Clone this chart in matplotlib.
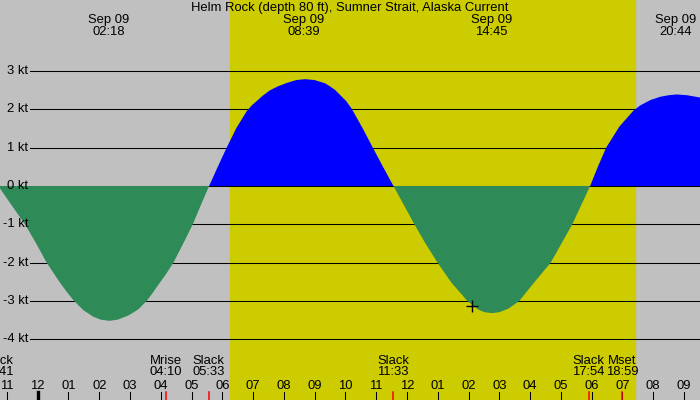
import numpy as np
import matplotlib.pyplot as plt

plt.rcParams['font.family'] = ['Liberation Sans', 'DejaVu Sans']

# current speed readings (hours after midnight Sep 09, knots)
hours = [-1.28, -0.85, -0.41, -0.05, 0.29, 0.72, 0.95, 1.18, 1.48, 1.8, 2.05, 2.33, 2.6, 2.95, 3.27, 3.54, 3.73, 3.92, 4.17, 4.41, 4.73, 5.04, 5.3,
         5.57, 5.85, 6.14, 6.46, 6.79, 6.95, 7.12, 7.3, 7.55, 7.8, 8.09, 8.4, 8.69, 9.0, 9.34, 9.5, 9.66, 10.02, 10.2, 10.55, 10.89, 11.22,
         11.56, 11.9, 12.24, 12.6, 12.99, 13.45, 13.96, 14.3, 14.5, 14.75, 15.0, 15.3, 15.65, 16.15, 16.67, 17.02, 17.37, 17.66,
         17.95, 18.2, 18.47, 18.9, 19.36, 19.57, 19.9, 20.23, 20.5, 20.77, 21.1, 21.52, 21.7]
knots = [0.0, -0.5, -1.0, -1.5, -2.0, -2.52, -2.77, -3.0, -3.24, -3.41, -3.49, -3.52, -3.49, -3.38, -3.22, -3.0, -2.8, -2.58, -2.3, -2.0, -1.5, -1.0, -0.5,
         0.0, 0.5, 1.0, 1.52, 1.95, 2.1, 2.22, 2.35, 2.5, 2.6, 2.69, 2.765, 2.79, 2.765, 2.68, 2.6, 2.51, 2.22, 2.02, 1.52, 1.0, 0.5,
         0.0, -0.5, -1.0, -1.5, -2.0, -2.53, -3.0, -3.22, -3.29, -3.32, -3.295, -3.2, -3.0, -2.5, -2.0, -1.5, -1.0, -0.5,
         0.0, 0.5, 1.0, 1.55, 1.97, 2.1, 2.24, 2.33, 2.37, 2.39, 2.37, 2.31, 2.27]

peak_hours = [2.3, 8.65, 14.75, 20.73]
peak_labels = ["Sep 09\n02:18", "Sep 09\n08:39", "Sep 09\n14:45", "Sep 09\n20:44"]

event_hours = [-1.317, 4.167, 5.55, 11.55, 17.9, 18.98]
event_labels = ["Slack\n22:41", "Mrise\n04:10", "Slack\n05:33", "Slack\n11:33", "Slack\n17:54", "Mset\n18:59"]

sunrise, sunset = 6.25, 19.42
marker_hour, marker_knots = 14.12, -3.13
kt_levels = [3, 2, 1, 0, -1, -2, -3, -4]
title = "Helm Rock (depth 80 ft), Sumner Strait, Alaska Current"

h = np.array(hours)
v = np.array(knots)
fs = 9.4

fig = plt.figure(figsize=(7, 4), dpi=100)
ax = fig.add_axes([0, 0, 1, 1])
ax.set_xlim(-1.225, 21.52)
ax.set_ylim(-5.587, 4.856)
ax.axis('off')
ax.add_patch(plt.Rectangle((0, 0), 1, 1, transform=ax.transAxes, color='#c0c0c0', zorder=-2))

# daylight
ax.axvspan(sunrise, sunset, color='#cccc00', zorder=0)

for k in kt_levels:
    ax.axhline(k, xmin=0.043, xmax=1, color='black', lw=0.75, zorder=1)
    ax.text(0.04, k, f"{k} kt", transform=ax.get_yaxis_transform(), ha='right', va='center', fontsize=fs)

ax.fill_between(h, v, 0, where=v >= 0, interpolate=True, color='#0000ff', lw=0, zorder=2)
ax.fill_between(h, v, 0, where=v <= 0, interpolate=True, color='#2e8b57', lw=0, zorder=2)
ax.plot(marker_hour, marker_knots, marker='+', color='black', ms=8, mew=1, zorder=3)

xt = ax.get_xaxis_transform()
ax.text(0.5, 0.98, title, transform=ax.transAxes, ha='center', va='center', fontsize=fs)
for ph, lab in zip(peak_hours, peak_labels):
    ax.text(ph, 0.935, lab, transform=xt, ha='center', va='center', fontsize=fs, linespacing=0.92)

for hr in range(-1, 22):
    lab = f"{(hr % 12) or 12:02d}"
    ax.text(hr, 0.036, lab, transform=xt, ha='center', va='center', fontsize=fs)
    lw = 2.4 if hr % 24 == 0 else 0.75
    ax.plot([hr, hr], [0, 0.02], transform=xt, color='black', lw=lw, zorder=4)

for eh, lab in zip(event_hours, event_labels):
    ax.text(eh, 0.083, lab, transform=xt, ha='center', va='center', fontsize=fs, linespacing=0.92)
    ax.plot([eh, eh], [0, 0.02], transform=xt, color='red', lw=1.1, clip_on=False, zorder=5)

fig.savefig('out.png', dpi=100)
